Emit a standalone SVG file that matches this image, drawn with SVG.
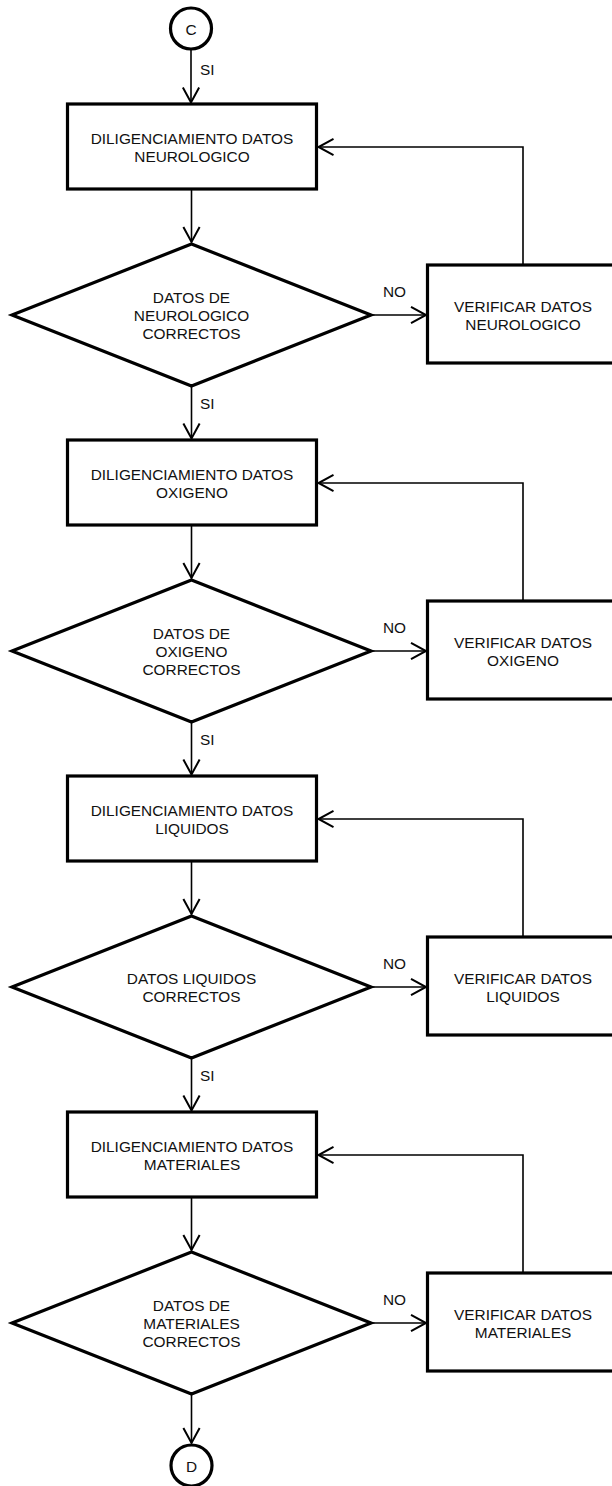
<svg xmlns="http://www.w3.org/2000/svg" width="612" height="1486" viewBox="0 0 612 1486">
<defs>
<style>
.shape{fill:#fff;stroke:#000;stroke-width:3.2;stroke-linejoin:miter}
.cn{fill:none;stroke:#000;stroke-width:1.6}
.t{font-family:"Liberation Sans",Arial,sans-serif;font-size:15.4px;fill:#111;text-anchor:middle}
.lbl{font-family:"Liberation Sans",Arial,sans-serif;font-size:15.4px;fill:#111}
</style>
<marker id="ah" markerUnits="userSpaceOnUse" markerWidth="20" markerHeight="20" refX="0" refY="0" viewBox="-14 -8 16 16" orient="auto" overflow="visible">
<path d="M-12,-6.5 L0,0 L-12,6.5" fill="none" stroke="#000" stroke-width="1.6"/>
</marker>
</defs>
<rect width="612" height="1486" fill="#fff"/>

<g id="connectors">
<path class="cn" d="M191,49 V102.5" marker-end="url(#ah)"/>
<path class="cn" d="M191.5,189 V242" marker-end="url(#ah)"/>
<path class="cn" d="M371,315 H426" marker-end="url(#ah)"/>
<path class="cn" d="M523,265 V147 H318.5" marker-end="url(#ah)"/>
<path class="cn" d="M191.5,386 V438.5" marker-end="url(#ah)"/>

<path class="cn" d="M191.5,525 V578" marker-end="url(#ah)"/>
<path class="cn" d="M371,651 H426" marker-end="url(#ah)"/>
<path class="cn" d="M523,601 V483 H318.5" marker-end="url(#ah)"/>
<path class="cn" d="M191.5,722 V774.5" marker-end="url(#ah)"/>

<path class="cn" d="M191.5,861 V914" marker-end="url(#ah)"/>
<path class="cn" d="M371,987 H426" marker-end="url(#ah)"/>
<path class="cn" d="M523,937 V819 H318.5" marker-end="url(#ah)"/>
<path class="cn" d="M191.5,1058 V1110.5" marker-end="url(#ah)"/>

<path class="cn" d="M191.5,1197 V1250" marker-end="url(#ah)"/>
<path class="cn" d="M371,1323 H426" marker-end="url(#ah)"/>
<path class="cn" d="M523,1273 V1155 H318.5" marker-end="url(#ah)"/>
<path class="cn" d="M191.5,1394 V1443" marker-end="url(#ah)"/>

<text class="lbl" x="200" y="75">SI</text>
<text class="lbl" x="200" y="409">SI</text>
<text class="lbl" x="200" y="745">SI</text>
<text class="lbl" x="200" y="1081">SI</text>
<text class="t" x="394.5" y="297">NO</text>
<text class="t" x="394.5" y="633">NO</text>
<text class="t" x="394.5" y="969">NO</text>
<text class="t" x="394.5" y="1305">NO</text>
</g>

<g id="start-c">
<circle class="shape" cx="191" cy="28.5" r="20.5"/>
<text class="t" x="191" y="34.5">C</text>
</g>

<g id="box-neurologico">
<rect class="shape" x="67.5" y="104" width="249" height="85"/>
<text class="t" x="192" y="144.2">DILIGENCIAMIENTO DATOS</text>
<text class="t" x="192" y="162.2">NEUROLOGICO</text>
</g>
<g id="dec-neurologico">
<polygon class="shape" points="191.5,244 371,315 191.5,386 12,315"/>
<text class="t" x="191.5" y="303.2">DATOS DE</text>
<text class="t" x="191.5" y="321.2">NEUROLOGICO</text>
<text class="t" x="191.5" y="339.2">CORRECTOS</text>
</g>
<g id="ver-neurologico">
<rect class="shape" x="427.5" y="265" width="200" height="98"/>
<text class="t" x="523" y="311.5">VERIFICAR DATOS</text>
<text class="t" x="523" y="329.5">NEUROLOGICO</text>
</g>

<g id="box-oxigeno">
<rect class="shape" x="67.5" y="440" width="249" height="85"/>
<text class="t" x="192" y="480.2">DILIGENCIAMIENTO DATOS</text>
<text class="t" x="192" y="498.2">OXIGENO</text>
</g>
<g id="dec-oxigeno">
<polygon class="shape" points="191.5,580 371,651 191.5,722 12,651"/>
<text class="t" x="191.5" y="639.2">DATOS DE</text>
<text class="t" x="191.5" y="657.2">OXIGENO</text>
<text class="t" x="191.5" y="675.2">CORRECTOS</text>
</g>
<g id="ver-oxigeno">
<rect class="shape" x="427.5" y="601" width="200" height="98"/>
<text class="t" x="523" y="647.5">VERIFICAR DATOS</text>
<text class="t" x="523" y="665.5">OXIGENO</text>
</g>

<g id="box-liquidos">
<rect class="shape" x="67.5" y="776" width="249" height="85"/>
<text class="t" x="192" y="816.2">DILIGENCIAMIENTO DATOS</text>
<text class="t" x="192" y="834.2">LIQUIDOS</text>
</g>
<g id="dec-liquidos">
<polygon class="shape" points="191.5,916 371,987 191.5,1058 12,987"/>
<text class="t" x="191.5" y="983.5">DATOS LIQUIDOS</text>
<text class="t" x="191.5" y="1001.5">CORRECTOS</text>
</g>
<g id="ver-liquidos">
<rect class="shape" x="427.5" y="937" width="200" height="98"/>
<text class="t" x="523" y="983.5">VERIFICAR DATOS</text>
<text class="t" x="523" y="1001.5">LIQUIDOS</text>
</g>

<g id="box-materiales">
<rect class="shape" x="67.5" y="1112" width="249" height="85"/>
<text class="t" x="192" y="1152.2">DILIGENCIAMIENTO DATOS</text>
<text class="t" x="192" y="1170.2">MATERIALES</text>
</g>
<g id="dec-materiales">
<polygon class="shape" points="191.5,1252 371,1323 191.5,1394 12,1323"/>
<text class="t" x="191.5" y="1311.2">DATOS DE</text>
<text class="t" x="191.5" y="1329.2">MATERIALES</text>
<text class="t" x="191.5" y="1347.2">CORRECTOS</text>
</g>
<g id="ver-materiales">
<rect class="shape" x="427.5" y="1273" width="200" height="98"/>
<text class="t" x="523" y="1319.5">VERIFICAR DATOS</text>
<text class="t" x="523" y="1337.5">MATERIALES</text>
</g>

<g id="end-d">
<circle class="shape" cx="191.5" cy="1465.5" r="20.5"/>
<text class="t" x="191.5" y="1471.5">D</text>
</g>
</svg>
